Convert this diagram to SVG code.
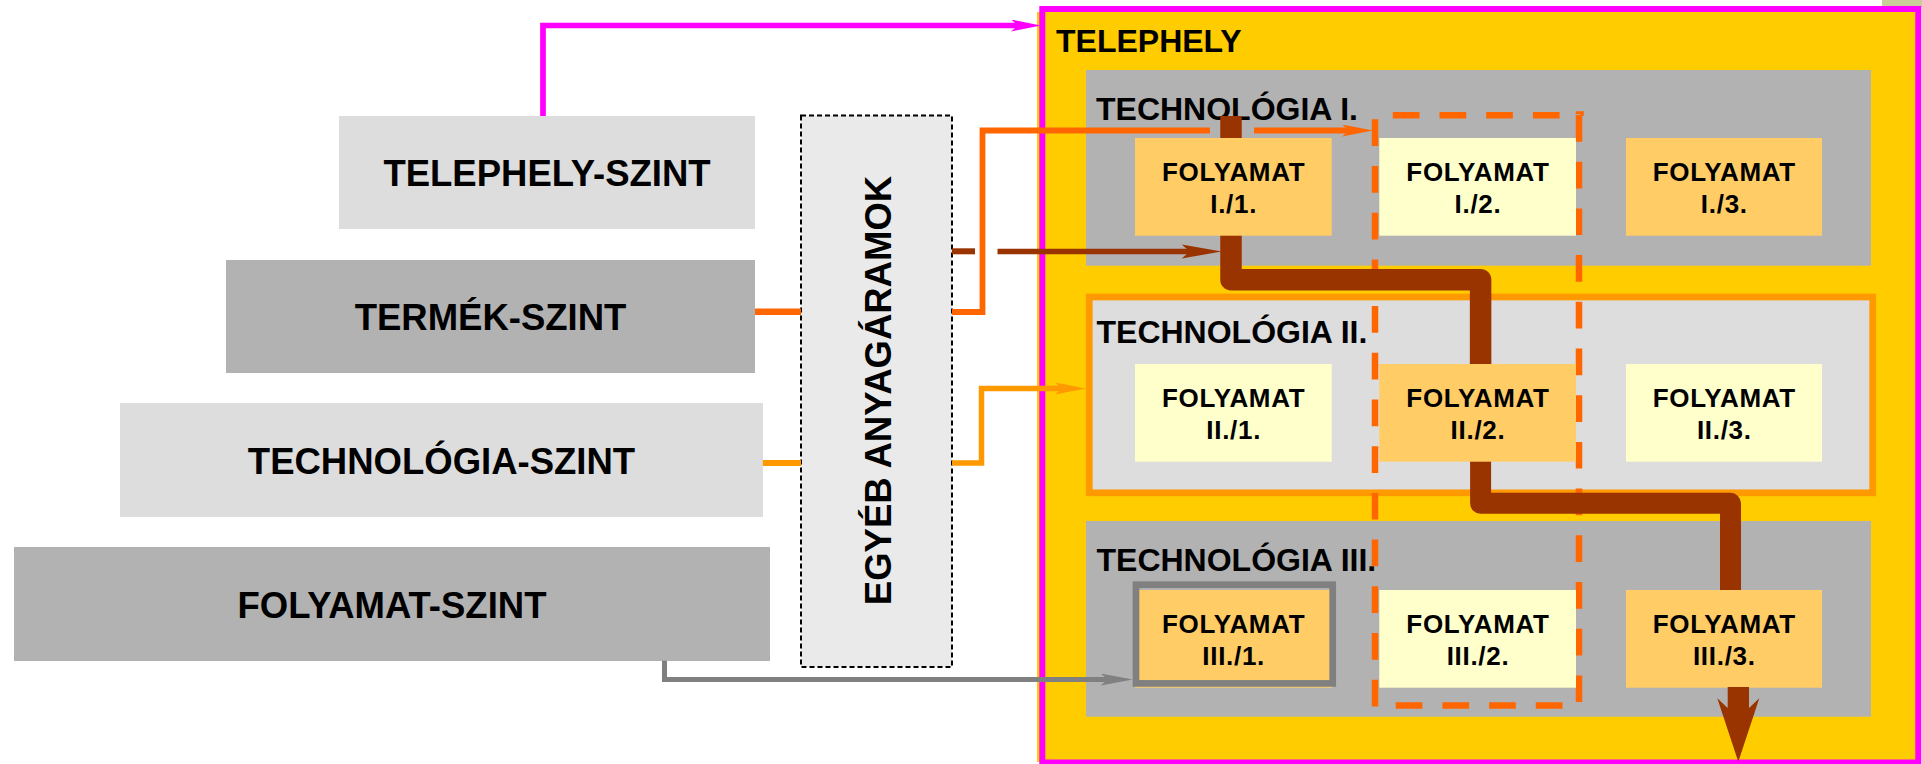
<svg xmlns="http://www.w3.org/2000/svg" width="1922" height="764" viewBox="0 0 1922 764">
  <style>
    text { font-family: "Liberation Sans", Arial, sans-serif; font-weight: bold; fill: #000; }
    .lvl { font-size: 36.5px; text-anchor: middle; }
    .tech { font-size: 32px; }
    .proc { font-size: 26px; text-anchor: middle; letter-spacing: 0.7px; }
    .p-dark { fill: #FFCC66; }
    .p-light { fill: #FFFFCC; }
    .dash { fill: none; stroke: #FF6600; stroke-width: 6.5; stroke-dasharray: 26.7 20; }
    .conn { fill: none; stroke-linejoin: miter; }
  </style>
  <defs>
    <marker id="ah-magenta" markerUnits="userSpaceOnUse" viewBox="0 0 30 12" markerWidth="30" markerHeight="12" refX="10" refY="6" orient="auto">
      <path d="M0,0 L30,6 L0,12 L7,6 Z" fill="#FF00FF"/>
    </marker>
    <marker id="ah-orange" markerUnits="userSpaceOnUse" viewBox="0 0 31 12" markerWidth="31" markerHeight="12" refX="11" refY="6" orient="auto">
      <path d="M0,0 L31,6 L0,12 L7,6 Z" fill="#FF6600"/>
    </marker>
    <marker id="ah-lorange" markerUnits="userSpaceOnUse" viewBox="0 0 31 12" markerWidth="31" markerHeight="12" refX="11" refY="6" orient="auto">
      <path d="M0,0 L31,6 L0,12 L7,6 Z" fill="#FF9900"/>
    </marker>
    <marker id="ah-gray" markerUnits="userSpaceOnUse" viewBox="0 0 32 12" markerWidth="32" markerHeight="12" refX="12" refY="6" orient="auto">
      <path d="M0,0 L32,6 L0,12 L7,6 Z" fill="#808080"/>
    </marker>
  </defs>

  <rect width="1922" height="764" fill="#FFFFFF"/>
  <rect x="1882" y="0" width="40" height="7" fill="#CACC99"/>

  <!-- level boxes on the left -->
  <g id="level-telephely">
    <rect x="339" y="116" width="416" height="113" fill="#DDDDDD"/>
    <text class="lvl" x="547" y="185.7">TELEPHELY-SZINT</text>
  </g>
  <g id="level-termek">
    <rect x="226" y="260" width="529" height="113" fill="#B2B2B2"/>
    <text class="lvl" x="490.5" y="330">TERMÉK-SZINT</text>
  </g>
  <g id="level-technologia">
    <rect x="120" y="403" width="643" height="114" fill="#DDDDDD"/>
    <text class="lvl" x="441.5" y="473.5">TECHNOLÓGIA-SZINT</text>
  </g>
  <g id="level-folyamat">
    <rect x="14" y="547" width="756" height="114" fill="#B2B2B2"/>
    <text class="lvl" x="392" y="617.5">FOLYAMAT-SZINT</text>
  </g>

  <!-- other material flows -->
  <g id="egyeb-anyagaramok">
    <rect x="801" y="115.5" width="151" height="551.5" fill="#EAEAEA" stroke="#000" stroke-width="2" stroke-dasharray="5 3"/>
    <text class="lvl" transform="translate(891,390.5) rotate(-90)">EGYÉB ANYAGÁRAMOK</text>
  </g>

  <!-- site frame -->
  <g id="telephely">
    <rect x="1037" y="12" width="880" height="750" fill="#FFCC00"/>
    <rect x="1042.3" y="9" width="876" height="753.5" fill="none" stroke="#FF00FF" stroke-width="6"/>
    <text class="tech" x="1056" y="51.7">TELEPHELY</text>
  </g>

  <!-- technologies -->
  <g id="technologia-1">
    <rect x="1086" y="70" width="785" height="195.7" fill="#B2B2B2"/>
    <text class="tech" x="1096" y="120">TECHNOLÓGIA I.</text>
  </g>
  <g id="technologia-2">
    <rect x="1089.3" y="297" width="783.4" height="195.8" fill="#DDDDDD" stroke="#FF9900" stroke-width="6.7"/>
    <text class="tech" x="1096.5" y="342.7">TECHNOLÓGIA II.</text>
  </g>
  <g id="technologia-3">
    <rect x="1086" y="521" width="785" height="195.7" fill="#B2B2B2"/>
    <text class="tech" x="1096.5" y="571">TECHNOLÓGIA III.</text>
  </g>

  <!-- product column frame (dashed) -->
  <g id="termek-keret">
    <path class="dash" d="M1392.8 115.3 H1561"/>
    <path class="dash" d="M1375 119.3 V706.5"/>
    <path class="dash" d="M1579 115 V702.5"/>
    <path class="dash" d="M1395.7 705.5 H1563"/>
    <path d="M1575.8 112.7 H1582.2 V116" fill="none" stroke="#FF6600" stroke-width="3"/>
  </g>

  <!-- product route through the processes -->
  <g id="termekut">
    <path d="M1231 116 V279.7 H1480.6 V366" fill="none" stroke="#993300" stroke-width="21.5" stroke-linejoin="round"/>
    <path d="M1480.6 460 V503.3 H1730.5 V592" fill="none" stroke="#993300" stroke-width="21" stroke-linejoin="round"/>
  </g>

  <!-- processes -->
  <g id="folyamat-1-1">
    <rect class="p-dark" x="1135" y="138" width="196.7" height="97.7"/>
    <text class="proc" x="1233.7" y="180.7">FOLYAMAT</text>
    <text class="proc" x="1233.7" y="212.7">I./1.</text>
  </g>
  <g id="folyamat-1-2">
    <rect class="p-light" x="1379.3" y="138" width="196.7" height="97.7"/>
    <text class="proc" x="1478" y="180.7">FOLYAMAT</text>
    <text class="proc" x="1478" y="212.7">I./2.</text>
  </g>
  <g id="folyamat-1-3">
    <rect class="p-dark" x="1626" y="138" width="196" height="97.7"/>
    <text class="proc" x="1724.3" y="180.7">FOLYAMAT</text>
    <text class="proc" x="1724.3" y="212.7">I./3.</text>
  </g>

  <g id="folyamat-2-1">
    <rect class="p-light" x="1135" y="364" width="196.7" height="97.7"/>
    <text class="proc" x="1233.7" y="407.3">FOLYAMAT</text>
    <text class="proc" x="1233.7" y="439">II./1.</text>
  </g>
  <g id="folyamat-2-2">
    <rect class="p-dark" x="1379.3" y="364" width="196.7" height="97.7"/>
    <text class="proc" x="1478" y="407.3">FOLYAMAT</text>
    <text class="proc" x="1478" y="439">II./2.</text>
  </g>
  <g id="folyamat-2-3">
    <rect class="p-light" x="1626" y="364" width="196" height="97.7"/>
    <text class="proc" x="1724.3" y="407.3">FOLYAMAT</text>
    <text class="proc" x="1724.3" y="439">II./3.</text>
  </g>

  <g id="folyamat-3-1">
    <rect class="p-dark" x="1135" y="590" width="196.7" height="97.7"/>
    <rect x="1136" y="584.7" width="196.7" height="98.7" fill="none" stroke="#808080" stroke-width="6.7"/>
    <text class="proc" x="1233.7" y="632.7">FOLYAMAT</text>
    <text class="proc" x="1233.7" y="665">III./1.</text>
  </g>
  <g id="folyamat-3-2">
    <rect class="p-light" x="1379.3" y="590" width="196.7" height="97.7"/>
    <text class="proc" x="1478" y="632.7">FOLYAMAT</text>
    <text class="proc" x="1478" y="665">III./2.</text>
  </g>
  <g id="folyamat-3-3">
    <rect class="p-dark" x="1626" y="590" width="196" height="97.7"/>
    <text class="proc" x="1724.3" y="632.7">FOLYAMAT</text>
    <text class="proc" x="1724.3" y="665">III./3.</text>
  </g>

  <!-- connectors -->
  <g id="connectors">
    <!-- site level -->
    <path class="conn" d="M543 116 V25.5 H1021" stroke="#FF00FF" stroke-width="5.7" stroke-linejoin="round" marker-end="url(#ah-magenta)"/>
    <!-- product level -->
    <path class="conn" d="M755 311.7 H801" stroke="#FF6600" stroke-width="6.5"/>
    <path class="conn" d="M952 312 H982.5 V130.5 H1210" stroke="#FF6600" stroke-width="5.8" stroke-linejoin="round"/>
    <path class="conn" d="M1254 130.5 H1353" stroke="#FF6600" stroke-width="5.8" marker-end="url(#ah-orange)"/>
    <!-- other flows into process I./1 -->
    <path class="conn" d="M952 251.3 H975" stroke="#993300" stroke-width="6"/>
    <path class="conn" d="M997.5 251.5 H1201.7" stroke="#993300" stroke-width="5.5"/>
    <path d="M1181.7 244.5 L1221.7 251.5 L1181.7 258.5 L1189.7 251.5 Z" fill="#993300"/>
    <!-- technology level -->
    <path class="conn" d="M762.8 463 H801" stroke="#FF9900" stroke-width="6"/>
    <path class="conn" d="M952 463 H981.5 V388.5 H1066" stroke="#FF9900" stroke-width="5.5" stroke-linejoin="round" marker-end="url(#ah-lorange)"/>
    <!-- process level -->
    <path class="conn" d="M664.5 660.7 V679.5 H1112.7" stroke="#808080" stroke-width="5" stroke-linejoin="round" marker-end="url(#ah-gray)"/>
    <!-- product leaving the site -->
    <polygon points="1727.7,687 1727.7,708 1717.3,698.3 1738.3,761.7 1759.3,698.3 1749,708 1749,687" fill="#993300"/>
  </g>
</svg>
